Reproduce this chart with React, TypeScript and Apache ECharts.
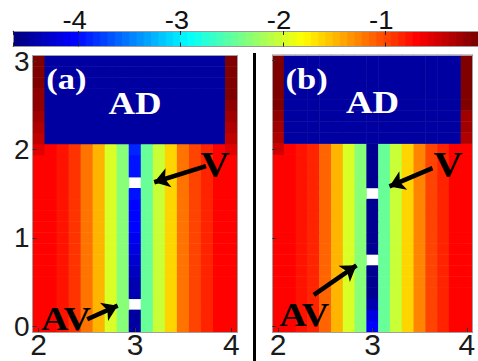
import React, { useEffect, useRef } from 'react';
import * as echarts from 'echarts';

// ---------- data ----------
const xCategories = ['2', '2.125', '2.25', '2.375', '2.5', '2.625', '2.75', '2.875', '3', '3.125', '3.25', '3.375', '3.5', '3.625', '3.75', '3.875', '4'];
const yCategories = ['0', '0.125', '0.25', '0.375', '0.5', '0.625', '0.75', '0.875', '1', '1.125', '1.25', '1.375', '1.5', '1.625', '1.75', '1.875', '2', '2.125', '2.25', '2.375', '2.5', '2.625', '2.75', '2.875', '3'];
const xTickLabels = ['2', '3', '4'];
const yTickLabels = ['0', '1', '2', '3'];
const colorbarTicks = [-4, -3, -2, -1];
const colorbarTickLabels = ['-4', '-3', '-2', '-1'];

const colorMin = -4.64;
const colorMax = -0.09;
const colorLevels = 64;
const jetStops = ['#000080', '#0000ff', '#0080ff', '#00ffff', '#80ff80', '#ffff00', '#ff8000', '#ff0000', '#800000'];

// AD region value (rows y >= 2.125)
const adValue = -4.46;

// column profile of the stripes (rows 0..2), x = 2 .. 4 ; x = 3 entry replaced by core column
const profileA = [-0.69, -0.69, -0.765, -0.907, -1.19, -1.475, -1.974, -2.33, -4.0, -2.47, -2.05, -1.615, -1.19, -0.978, -0.836, -0.69, -0.69];
const profileB = [-0.69, -0.69, -0.765, -0.87, -1.12, -1.475, -1.95, -2.33, -4.4, -2.47, -2.05, -1.615, -1.23, -0.978, -0.836, -0.69, -0.69];

// x = 3 column, rows y = 0 .. 2 (null = vacancy, white)
const coreA = [-4.46, -4.46, null, -4.39, -4.39, -4.32, -4.25, -4.18, -4.11, -4.04, -4.04, -4.04, -3.97, null, -3.97, -3.97, -3.9];
const coreB = [-4.04, -4.18, -4.39, -4.5, -4.5, -4.5, null, -4.5, -4.5, -4.5, -4.5, -4.5, null, -4.5, -4.5, -4.5, -4.5];

// edge columns (x = 2 and x = 4), rows y = 2 .. 3
const edgeLeftA = [-0.56, -0.418, -0.347, -0.276, -0.2, -0.17, -0.15, -0.12, -0.1];
const edgeRightA = [-0.56, -0.418, -0.347, -0.276, -0.2, -0.15, -0.12, -0.1, -0.1];
const edgeLeftB = [-0.49, -0.347, -0.276, -0.205, -0.15, -0.12, -0.12, -0.1, -0.1];
const edgeRightB = [-0.69, -0.347, -0.276, -0.276, -0.15, -0.12, -0.1, -0.1, -0.1];

// annotations (data coordinates)
const arrowsA = [
  { from: [3.737, 1.813], to: [3.2, 1.63] },
  { from: [2.504, 0.081], to: [2.82, 0.235] },
];
const arrowsB = [
  { from: [3.636, 1.787], to: [3.18, 1.58] },
  { from: [2.378, 0.356], to: [2.83, 0.69] },
];
const labelsA = [
  { text: '(a)', x: 2.288, y: 2.796, color: '#ffffff', size: 30 },
  { text: 'AD', x: 3.0, y: 2.53, color: '#ffffff', size: 32 },
  { text: 'V', x: 3.83, y: 1.824, color: '#000000', size: 35 },
  { text: 'AV', x: 2.283, y: 0.084, color: '#000000', size: 33 },
];
const labelsB = [
  { text: '(b)', x: 2.301, y: 2.796, color: '#ffffff', size: 30 },
  { text: 'AD', x: 3.0, y: 2.53, color: '#ffffff', size: 32 },
  { text: 'V', x: 3.8, y: 1.82, color: '#000000', size: 35 },
  { text: 'AV', x: 2.275, y: 0.13, color: '#000000', size: 33 },
];

function buildPanel(profile: number[], core: (number | null)[], edgeL: number[], edgeR: number[]) {
  const out: number[][] = [];
  const coreIdx = xCategories.indexOf('3');
  const adStart = yCategories.indexOf('2.125');
  const edgeStart = yCategories.indexOf('2');
  for (let yi = 0; yi < yCategories.length; yi++) {
    for (let xi = 0; xi < xCategories.length; xi++) {
      let v: number | null;
      if (xi === coreIdx) {
        v = yi < core.length ? core[yi] : adValue;
      } else if (yi >= edgeStart && xi === 0) {
        v = edgeL[yi - edgeStart];
      } else if (yi >= edgeStart && xi === xCategories.length - 1) {
        v = edgeR[yi - edgeStart];
      } else if (yi >= adStart) {
        v = adValue;
      } else {
        v = profile[xi];
      }
      if (v !== null && v !== undefined) out.push([xi, yi, v]);
    }
  }
  return out;
}

const FONT_SANS = '"Liberation Sans", Arial, sans-serif';
const FONT_SERIF = '"Liberation Serif", "Times New Roman", serif';

const tickEvery8 = (i: number) => i % 8 === 0;
const frameLine = { show: true, onZero: false, lineStyle: { color: '#a0a0a0', width: 1 } };

function panelAxes(gridIndex: number, showY: boolean) {
  const x = [
    {
      type: 'category', gridIndex, data: xCategories, position: 'bottom', boundaryGap: true,
      axisLine: frameLine,
      axisTick: { show: true, inside: true, length: 4, alignWithLabel: true, interval: tickEvery8, lineStyle: { color: '#333' } },
      axisLabel: {
        interval: tickEvery8, formatter: (v: string) => (xTickLabels.includes(v) ? v : ''),
        fontSize: 30, color: '#1a1a1a', margin: -3, fontFamily: FONT_SANS,
      },
      splitLine: { show: false }, z: 3,
    },
    {
      type: 'value', gridIndex, position: 'top', min: 1.9375, max: 4.0625,
      axisLine: frameLine,
      axisTick: { show: false }, axisLabel: { show: false }, splitLine: { show: false }, z: 3,
    },
  ];
  const y = [
    {
      type: 'category', gridIndex, data: yCategories, position: 'left', boundaryGap: true,
      axisLine: frameLine,
      axisTick: { show: true, inside: true, length: 4, alignWithLabel: true, interval: tickEvery8, lineStyle: { color: '#333' } },
      axisLabel: {
        show: showY, interval: tickEvery8, formatter: (v: string) => (yTickLabels.includes(v) ? v : ''),
        fontSize: 28, color: '#1a1a1a', margin: 3, fontFamily: FONT_SANS,
      },
      splitLine: { show: false }, z: 3,
    },
    {
      type: 'value', gridIndex, position: 'right', min: -0.0625, max: 3.0625,
      axisLine: frameLine,
      axisTick: { show: false }, axisLabel: { show: false }, splitLine: { show: false }, z: 3,
    },
  ];
  return { x, y };
}

function arrowSeries(axisIndex: number, arrows: { from: number[]; to: number[] }[]) {
  return {
    type: 'lines', coordinateSystem: 'cartesian2d', xAxisIndex: axisIndex, yAxisIndex: axisIndex,
    symbol: ['none', 'arrow'], symbolSize: 15, silent: true, z: 6,
    lineStyle: { color: '#000', width: 4.5, opacity: 1, curveness: 0 },
    data: arrows.map((a) => ({ coords: [a.from, a.to] })),
  };
}

export default function App() {
  const ref = useRef<HTMLDivElement>(null);
  useEffect(() => {
    if (!ref.current) return;
    const chart = echarts.init(ref.current, null, { renderer: 'svg' });
    const pa = panelAxes(0, true);
    const pb = panelAxes(1, false);
    const cbWidth = 465;
    const cbLine = { show: true, onZero: false, lineStyle: { color: '#999', width: 1 } };
    const option: any = {
      animation: false,
      backgroundColor: '#ffffff',
      grid: [
        { left: 32.7, top: 55.5, width: 204.6, height: 276.5 },
        { left: 272.3, top: 55, width: 205.7, height: 277 },
        { left: 13, top: 31, width: cbWidth, height: 15.5 },
      ],
      xAxis: [
        ...pa.x,
        ...pb.x,
        {
          type: 'value', gridIndex: 2, position: 'top', min: colorMin, max: colorMax,
          axisLine: cbLine,
          axisTick: { show: true, inside: true, length: 4, lineStyle: { color: '#222' } },
          axisLabel: { show: false },
          splitLine: { show: false }, z: 10,
        },
        {
          type: 'value', gridIndex: 2, position: 'bottom', min: colorMin, max: colorMax,
          axisLine: cbLine,
          axisTick: { show: true, inside: true, length: 4, lineStyle: { color: '#222' } },
          axisLabel: { show: false }, splitLine: { show: false }, z: 10,
        },
      ],
      yAxis: [
        ...pa.y,
        ...pb.y,
        {
          type: 'value', gridIndex: 2, position: 'left', min: 0, max: 1,
          axisLine: cbLine, axisTick: { show: false },
          axisLabel: { show: false }, splitLine: { show: false }, z: 10,
        },
        {
          type: 'value', gridIndex: 2, position: 'right', min: 0, max: 1,
          axisLine: cbLine, axisTick: { show: false },
          axisLabel: { show: false }, splitLine: { show: false }, z: 10,
        },
      ],
      visualMap: {
        type: 'piecewise', min: colorMin, max: colorMax, splitNumber: colorLevels,
        inRange: { color: jetStops }, orient: 'horizontal', left: 13, top: 31, padding: 0,
        itemWidth: cbWidth / colorLevels + 0.8, itemHeight: 15.5, itemGap: -0.8,
        itemSymbol: 'rect', showLabel: false, selectedMode: false, hoverLink: false,
        seriesIndex: [0, 1], dimension: 2, z: 2,
      },
      series: [
        {
          type: 'heatmap', xAxisIndex: 0, yAxisIndex: 0, data: buildPanel(profileA, coreA, edgeLeftA, edgeRightA),
          emphasis: { disabled: true }, silent: true, z: 2,
        },
        {
          type: 'heatmap', xAxisIndex: 2, yAxisIndex: 2, data: buildPanel(profileB, coreB, edgeLeftB, edgeRightB),
          emphasis: { disabled: true }, silent: true, z: 2,
        },
        arrowSeries(1, arrowsA),
        arrowSeries(3, arrowsB),
      ],
    };
    chart.setOption(option);

    const makeText = (axisIndex: number, l: any) => {
      const p = chart.convertToPixel({ xAxisIndex: axisIndex, yAxisIndex: axisIndex } as any, [l.x, l.y]) as number[];
      return {
        type: 'text', x: p[0], y: p[1], scaleX: 1.15, z: 20, silent: true,
        style: {
          text: l.text, fill: l.color, fontSize: l.size, fontWeight: 'bold', fontFamily: FONT_SERIF,
          align: 'center', verticalAlign: 'middle', textAlign: 'center', textVerticalAlign: 'middle',
        },
      };
    };
    const colorbarLabels = colorbarTicks.map((t, i) => {
      const px = chart.convertToPixel({ xAxisIndex: 4 } as any, t) as number;
      return {
        type: 'text', x: px + 8.5, y: 20.5, scaleX: 1.1, z: 20, silent: true,
        style: {
          text: colorbarTickLabels[i], fill: '#111', fontSize: 25, fontFamily: FONT_SANS,
          align: 'right', verticalAlign: 'middle', textAlign: 'right', textVerticalAlign: 'middle',
        },
      };
    });
    const graphics: any[] = [
      { type: 'rect', shape: { x: 253, y: 53, width: 3, height: 310 }, style: { fill: '#000' }, z: 20, silent: true },
      ...colorbarLabels,
      ...labelsA.map((l) => makeText(1, l)),
      ...labelsB.map((l) => makeText(3, l)),
    ];
    chart.setOption({ graphic: graphics });
    return () => chart.dispose();
  }, []);
  return <div ref={ref} style={{ position: 'fixed', left: 0, top: 0, width: 478, height: 361 }} />;
}
